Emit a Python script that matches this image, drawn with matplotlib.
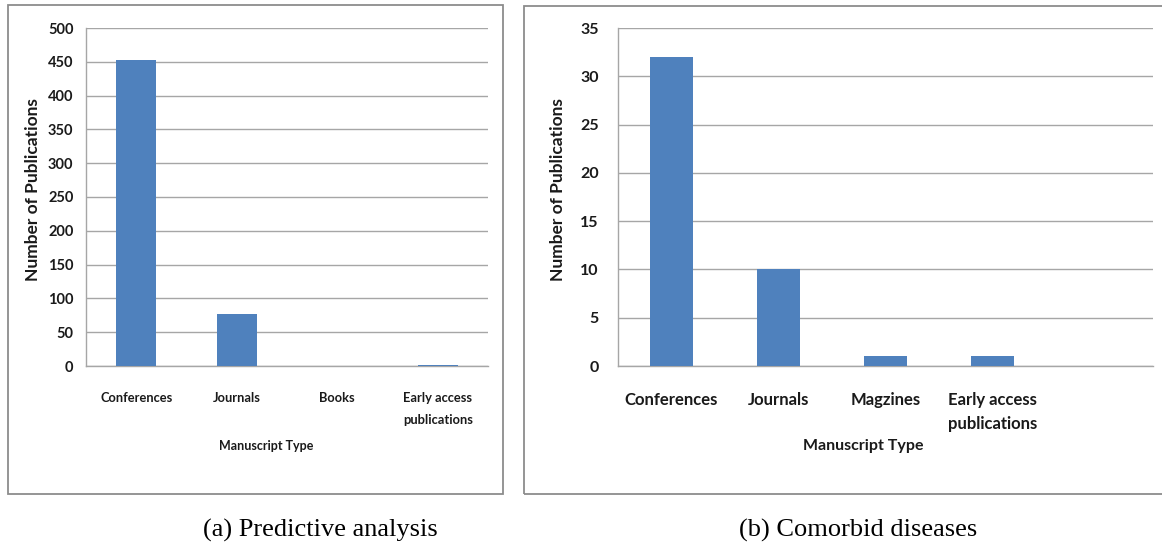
import matplotlib
matplotlib.use("Agg")
import matplotlib.pyplot as plt
from matplotlib.patches import Rectangle

# Panel (a): predictive analysis publications
cats_a = ["Conferences", "Journals", "Books", "Early access\npublications"]
vals_a = [452, 77, 0, 2]
yticks_a = [0, 50, 100, 150, 200, 250, 300, 350, 400, 450, 500]

# Panel (b): comorbid diseases publications (last category slot is blank)
cats_b = ["Conferences", "Journals", "Magzines", "Early access\npublications", ""]
vals_b = [32, 10, 1, 1, 0]
yticks_b = [0, 5, 10, 15, 20, 25, 30, 35]

BAR = "#4F81BD"
GRID = "#A6A6A6"
FRAME = "#8C8C8C"
TXT = "#1a1a1a"
FONT = ["Lato", "DejaVu Sans"]

W, H = 1162, 545
fig = plt.figure(figsize=(W / 100, H / 100), dpi=100)


def px_axes(x0, y0, x1, y1):
    return fig.add_axes([x0 / W, 1 - y1 / H, (x1 - x0) / W, (y1 - y0) / H])


def frame(x0, y0, x1, y1):
    fig.patches.append(Rectangle((x0 / W, 1 - y1 / H), (x1 - x0) / W, (y1 - y0) / H,
                                 transform=fig.transFigure, fill=False,
                                 edgecolor=FRAME, linewidth=1.3, zorder=0))


def panel(ax, cats, vals, yticks, yfs, xfs, ypad, xpad, lsp):
    x = list(range(len(cats)))
    ax.bar(x, vals, width=0.4, color=BAR, edgecolor="none", zorder=3)
    ax.set_ylim(yticks[0], yticks[-1])
    ax.set_xlim(-0.5, len(cats) - 0.5)
    ax.set_yticks(yticks)
    ax.set_yticklabels([str(t) for t in yticks], family=FONT, fontsize=yfs,
                       fontweight="bold", color=TXT)
    ax.set_xticks(x)
    ax.set_xticklabels(cats, family=FONT, fontsize=xfs, fontweight="bold",
                       color=TXT, linespacing=lsp, va="top")
    ax.tick_params(axis="both", length=0)
    ax.tick_params(axis="y", pad=ypad)
    ax.tick_params(axis="x", pad=xpad)
    ax.grid(axis="y", color=GRID, linewidth=1.0, zorder=0)
    for s in ("top", "right"):
        ax.spines[s].set_visible(False)
    for s in ("left", "bottom"):
        ax.spines[s].set_color(GRID)
        ax.spines[s].set_linewidth(1.0)
    ax.set_facecolor("white")


# outer boxes around each chart
frame(8, 5, 503, 494)
frame(524, 6, 1175, 494)

ax_a = px_axes(86, 28, 488, 366)
panel(ax_a, cats_a, vals_a, yticks_a, 10.5, 9.3, 9, 19, 1.95)
ax_b = px_axes(618, 28, 1153, 366)
panel(ax_b, cats_b, vals_b, yticks_b, 11.5, 12, 14, 19, 1.6)

# axis titles
fig.text(33 / W, 1 - 190 / H, "Number of Publications", rotation=90, ha="center",
         va="center", family=FONT, fontsize=12.5, fontweight="bold", color=TXT)
fig.text(558 / W, 1 - 190 / H, "Number of Publications", rotation=90, ha="center",
         va="center", family=FONT, fontsize=12.5, fontweight="bold", color=TXT)
fig.text(266 / W, 1 - 446 / H, "Manuscript Type", ha="center", va="center",
         family=FONT, fontsize=9, fontweight="bold", color=TXT)
fig.text(863 / W, 1 - 446 / H, "Manuscript Type", ha="center", va="center",
         family=FONT, fontsize=11.5, fontweight="bold", color=TXT)

# sub-figure captions
fig.text(320 / W, 1 - 530 / H, "(a) Predictive analysis", ha="center", va="center",
         family="Liberation Serif", fontsize=19)
fig.text(858 / W, 1 - 530 / H, "(b) Comorbid diseases", ha="center", va="center",
         family="Liberation Serif", fontsize=19)

fig.savefig("out.png", dpi=100, facecolor="white")
